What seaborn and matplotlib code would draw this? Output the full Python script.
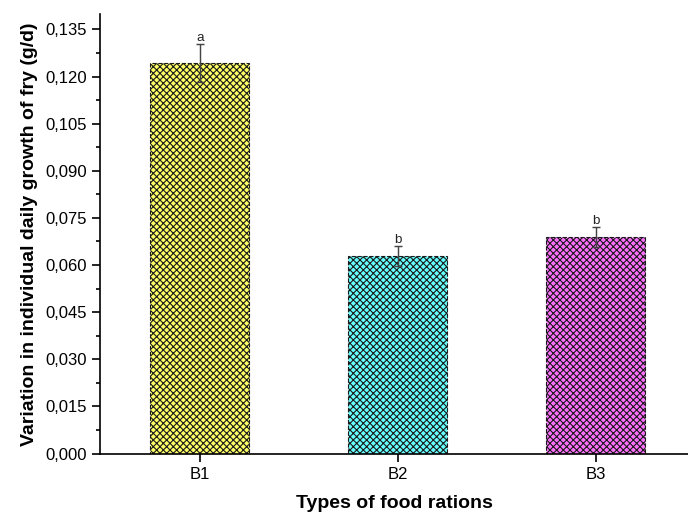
import numpy as np
import pandas as pd
import seaborn as sns
import matplotlib.pyplot as plt
from matplotlib.ticker import MultipleLocator, FuncFormatter

# data
rations = ['B1', 'B2', 'B3']
growth = [0.1242, 0.0630, 0.0690]
growth_err = [0.0061, 0.0032, 0.0032]
letters = ['a', 'b', 'b']
bar_colors = ['#FFFF66', '#66FFFF', '#FF70FF']

df = pd.DataFrame({'ration': rations, 'growth': growth})

sns.set_style("ticks")
plt.rcParams['font.family'] = ['Liberation Sans', 'DejaVu Sans']
plt.rcParams['hatch.linewidth'] = 1.0

fig = plt.figure(figsize=(8.6, 6.45), dpi=80)
ax = fig.add_axes([100 / 688, 1 - 453.5 / 516, 1 - 100 / 688, (453.5 - 14) / 516])

sns.barplot(data=df, x='ration', y='growth', hue='ration', palette=bar_colors,
            saturation=1, legend=False, width=0.5, errorbar=None, ax=ax)

for p in ax.patches:
    p.set_hatch('xxxx')
    p.set_edgecolor('#1a1a1a')
    p.set_linestyle('--')
    p.set_linewidth(1.0)

ax.errorbar(np.arange(len(rations)), growth, yerr=growth_err, fmt='none',
            ecolor='#444444', elinewidth=1.3, capsize=4, capthick=1.3)

for i, (v, e, l) in enumerate(zip(growth, growth_err, letters)):
    ax.annotate(l, (i, v + e), xytext=(0, 0), textcoords='offset points',
                ha='center', va='bottom', fontsize=12, color='#222222')

ax.set_xlim(-0.505, 2.465)
ax.set_ylim(0, 0.1399)
ax.yaxis.set_major_locator(MultipleLocator(0.015))
ax.yaxis.set_minor_locator(MultipleLocator(0.0075))
ax.yaxis.set_major_formatter(FuncFormatter(lambda v, pos: f"{v:.3f}".replace('.', ',')))

ax.tick_params(axis='both', which='major', direction='out', length=7, width=1.5,
               labelsize=15, color='black', labelcolor='black', pad=5)
ax.tick_params(axis='y', which='minor', direction='out', length=4, width=1.5, color='black')

sns.despine(ax=ax)
for s in ['left', 'bottom']:
    ax.spines[s].set_linewidth(1.5)
    ax.spines[s].set_color('black')

ax.set_xlabel('Types of food rations', fontsize=17.5, fontweight='bold', labelpad=12,
              color='black')
ax.set_ylabel('Variation in individual daily growth of fry (g/d)', fontsize=17.5,
              fontweight='bold', labelpad=6, color='black')

fig.savefig('out.png', dpi=80)
